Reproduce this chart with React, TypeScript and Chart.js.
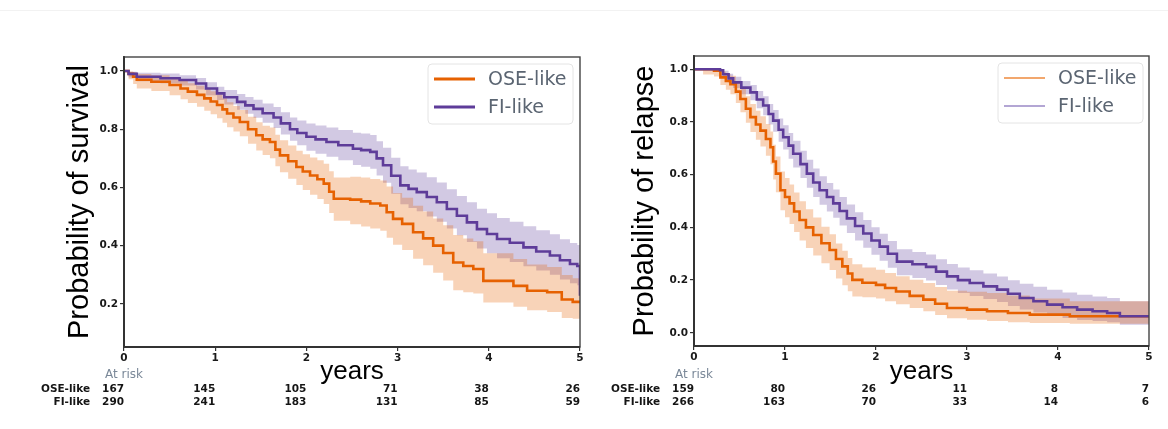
import React, { useEffect, useRef } from "react";
import { Chart, registerables } from "chart.js";

Chart.register(...registerables);

// ---------- Survival (left) ----------
const survOseT = [0, 0.05, 0.1, 0.14, 0.3, 0.5, 0.62, 0.7, 0.8, 0.88, 0.95, 1.02, 1.08, 1.13, 1.2, 1.27, 1.36, 1.45, 1.52, 1.6, 1.66, 1.71, 1.8, 1.89, 1.96, 2.04, 2.12, 2.19, 2.25, 2.3, 2.48, 2.6, 2.7, 2.81, 2.88, 2.95, 3.05, 3.17, 3.28, 3.39, 3.5, 3.61, 3.72, 3.83, 3.94, 4.27, 4.42, 4.64, 4.8, 4.92, 5.0];
const survOse = [1.0, 0.99, 0.98, 0.97, 0.963, 0.952, 0.94, 0.929, 0.918, 0.906, 0.895, 0.883, 0.868, 0.854, 0.84, 0.825, 0.8, 0.779, 0.765, 0.756, 0.73, 0.71, 0.69, 0.67, 0.655, 0.641, 0.628, 0.613, 0.585, 0.561, 0.558, 0.552, 0.545, 0.538, 0.515, 0.492, 0.475, 0.446, 0.425, 0.4, 0.375, 0.342, 0.33, 0.32, 0.279, 0.262, 0.245, 0.24, 0.215, 0.207, 0.207];
const survOseHi = [1.0, 0.998, 0.996, 0.99, 0.985, 0.977, 0.967, 0.958, 0.949, 0.939, 0.93, 0.92, 0.906, 0.893, 0.88, 0.866, 0.843, 0.824, 0.812, 0.806, 0.781, 0.762, 0.744, 0.726, 0.714, 0.703, 0.693, 0.681, 0.656, 0.634, 0.637, 0.634, 0.629, 0.624, 0.603, 0.581, 0.565, 0.537, 0.517, 0.493, 0.47, 0.437, 0.425, 0.415, 0.374, 0.354, 0.335, 0.327, 0.299, 0.288, 0.287];
const survOseLo = [1.0, 0.972, 0.955, 0.94, 0.931, 0.917, 0.903, 0.89, 0.877, 0.863, 0.851, 0.838, 0.822, 0.807, 0.792, 0.776, 0.75, 0.727, 0.711, 0.7, 0.673, 0.652, 0.63, 0.608, 0.591, 0.575, 0.56, 0.543, 0.512, 0.486, 0.474, 0.466, 0.459, 0.451, 0.427, 0.403, 0.385, 0.355, 0.333, 0.307, 0.28, 0.247, 0.24, 0.236, 0.205, 0.19, 0.178, 0.172, 0.152, 0.149, 0.149];

const survFiT = [0, 0.05, 0.14, 0.4, 0.61, 0.79, 0.9, 1.02, 1.1, 1.24, 1.33, 1.42, 1.52, 1.64, 1.72, 1.82, 1.9, 2.0, 2.1, 2.22, 2.35, 2.51, 2.6, 2.7, 2.77, 2.84, 2.93, 3.03, 3.12, 3.21, 3.32, 3.43, 3.54, 3.65, 3.76, 3.87, 3.98, 4.09, 4.23, 4.38, 4.52, 4.67, 4.78, 4.89, 4.97, 5.0];
const survFi = [1.0, 0.99, 0.98, 0.975, 0.969, 0.957, 0.94, 0.923, 0.91, 0.894, 0.882, 0.87, 0.855, 0.84, 0.82, 0.8, 0.787, 0.774, 0.765, 0.756, 0.745, 0.733, 0.728, 0.722, 0.7, 0.676, 0.64, 0.607, 0.595, 0.584, 0.567, 0.549, 0.526, 0.503, 0.48, 0.457, 0.44, 0.423, 0.41, 0.394, 0.38, 0.366, 0.35, 0.337, 0.33, 0.228];
const survFiHi = [1.0, 0.997, 0.994, 0.991, 0.985, 0.976, 0.961, 0.946, 0.935, 0.921, 0.911, 0.901, 0.888, 0.876, 0.858, 0.84, 0.83, 0.82, 0.813, 0.806, 0.797, 0.788, 0.785, 0.78, 0.759, 0.736, 0.702, 0.673, 0.662, 0.651, 0.635, 0.617, 0.594, 0.571, 0.549, 0.527, 0.511, 0.495, 0.482, 0.467, 0.453, 0.439, 0.422, 0.409, 0.402, 0.402];
const survFiLo = [1.0, 0.978, 0.965, 0.958, 0.95, 0.936, 0.917, 0.9, 0.885, 0.867, 0.853, 0.839, 0.822, 0.804, 0.782, 0.76, 0.745, 0.726, 0.716, 0.705, 0.693, 0.677, 0.671, 0.664, 0.641, 0.616, 0.578, 0.542, 0.529, 0.518, 0.5, 0.482, 0.459, 0.436, 0.413, 0.39, 0.374, 0.357, 0.344, 0.329, 0.315, 0.3, 0.284, 0.271, 0.264, 0.264];

// ---------- Relapse (right) ----------
const relOseT = [0, 0.1, 0.22, 0.29, 0.35, 0.4, 0.46, 0.51, 0.57, 0.62, 0.68, 0.73, 0.79, 0.84, 0.87, 0.9, 0.95, 1.0, 1.05, 1.1, 1.16, 1.23, 1.31, 1.4, 1.49, 1.56, 1.63, 1.69, 1.74, 1.85, 2.0, 2.1, 2.22, 2.37, 2.52, 2.65, 2.78, 3.0, 3.22, 3.45, 3.69, 4.13, 5.0];
const relOse = [1.0, 1.0, 0.994, 0.969, 0.955, 0.943, 0.915, 0.887, 0.85, 0.818, 0.79, 0.767, 0.735, 0.704, 0.65, 0.604, 0.541, 0.515, 0.491, 0.46, 0.428, 0.4, 0.371, 0.34, 0.314, 0.28, 0.252, 0.225, 0.201, 0.19, 0.182, 0.17, 0.157, 0.14, 0.126, 0.11, 0.094, 0.088, 0.082, 0.075, 0.069, 0.063, 0.063];
const relOseHi = [1.0, 1.0, 1.0, 0.99, 0.982, 0.975, 0.953, 0.931, 0.897, 0.868, 0.842, 0.821, 0.792, 0.764, 0.713, 0.669, 0.612, 0.587, 0.563, 0.532, 0.499, 0.469, 0.437, 0.402, 0.374, 0.339, 0.311, 0.284, 0.26, 0.248, 0.239, 0.227, 0.215, 0.201, 0.189, 0.174, 0.16, 0.156, 0.151, 0.142, 0.13, 0.12, 0.113];
const relOseLo = [1.0, 0.98, 0.972, 0.94, 0.922, 0.905, 0.872, 0.837, 0.797, 0.762, 0.732, 0.707, 0.672, 0.639, 0.582, 0.533, 0.465, 0.438, 0.413, 0.382, 0.35, 0.322, 0.293, 0.264, 0.238, 0.206, 0.18, 0.158, 0.138, 0.135, 0.13, 0.12, 0.108, 0.094, 0.082, 0.068, 0.055, 0.05, 0.045, 0.04, 0.037, 0.034, 0.031];

const relFiT = [0, 0.2, 0.286, 0.32, 0.38, 0.43, 0.52, 0.62, 0.69, 0.76, 0.82, 0.87, 0.93, 0.98, 1.04, 1.09, 1.17, 1.24, 1.31, 1.38, 1.46, 1.53, 1.6, 1.68, 1.77, 1.86, 1.95, 2.04, 2.13, 2.23, 2.4, 2.55, 2.66, 2.78, 2.9, 3.03, 3.18, 3.33, 3.45, 3.58, 3.73, 3.88, 4.05, 4.21, 4.38, 4.54, 4.68, 5.0];
const relFi = [1.0, 1.0, 0.996, 0.981, 0.965, 0.95, 0.93, 0.912, 0.885, 0.862, 0.83, 0.805, 0.77, 0.742, 0.71, 0.679, 0.64, 0.604, 0.57, 0.541, 0.515, 0.491, 0.462, 0.434, 0.405, 0.377, 0.35, 0.327, 0.3, 0.27, 0.26, 0.25, 0.232, 0.214, 0.2, 0.189, 0.176, 0.164, 0.148, 0.132, 0.12, 0.107, 0.097, 0.088, 0.082, 0.075, 0.063, 0.063];
const relFiHi = [1.0, 1.0, 1.0, 0.994, 0.983, 0.971, 0.955, 0.94, 0.917, 0.897, 0.868, 0.845, 0.813, 0.787, 0.758, 0.729, 0.691, 0.656, 0.623, 0.594, 0.568, 0.544, 0.515, 0.487, 0.457, 0.428, 0.4, 0.376, 0.348, 0.317, 0.307, 0.297, 0.279, 0.261, 0.248, 0.237, 0.225, 0.214, 0.199, 0.186, 0.175, 0.163, 0.153, 0.144, 0.138, 0.132, 0.12, 0.116];
const relFiLo = [1.0, 1.0, 0.988, 0.967, 0.947, 0.929, 0.905, 0.882, 0.852, 0.825, 0.79, 0.763, 0.725, 0.695, 0.66, 0.627, 0.587, 0.55, 0.515, 0.486, 0.46, 0.436, 0.407, 0.379, 0.35, 0.323, 0.296, 0.273, 0.247, 0.218, 0.208, 0.198, 0.181, 0.164, 0.151, 0.14, 0.128, 0.117, 0.102, 0.088, 0.077, 0.065, 0.056, 0.049, 0.045, 0.04, 0.031, 0.031];

// ---------- At-risk table ----------
const riskTimes = [0, 1, 2, 3, 4, 5];
const survRiskOse = [167, 145, 105, 71, 38, 26];
const survRiskFi = [290, 241, 183, 131, 85, 59];
const relRiskOse = [159, 80, 26, 11, 8, 7];
const relRiskFi = [266, 163, 70, 33, 14, 6];

const groupNames = ["OSE-like", "FI-like"];
const survTitle = "Probability of survival";
const relTitle = "Probability of relapse";
const xTitle = "years";
const atRiskLabel = "At risk";

const ORANGE = "#e66101";
const PURPLE = "#5e3c99";
const ORANGE_BAND = "rgba(230, 97, 1, 0.28)";
const PURPLE_BAND = "rgba(94, 60, 153, 0.28)";

const toPts = (t: number[], v: number[]) => t.map((x, i) => ({ x, y: v[i] }));

type Series = { t: number[]; s: number[]; hi: number[]; lo: number[] };

type Cfg = {
  left: number;
  width: number;
  padTop: number;
  padRight: number;
  yAxisW: number;
  xAxisH: number;
  yMin: number;
  yMax: number;
  title: string;
  titleBaselineX: number;
  ose: Series;
  fi: Series;
  riskOse: number[];
  riskFi: number[];
  legendLineW: number;
  legendColors: string[];
  legendRightGap: number;
};

const TICK_FONT = { family: "'DejaVu Sans'", size: 10.5, weight: "bold" as const };

function KMChart({ cfg }: { cfg: Cfg }) {
  const ref = useRef<HTMLCanvasElement>(null);
  useEffect(() => {
    const extras = {
      id: "kmExtras",
      afterDraw(chart: any) {
        const { ctx, chartArea: ca } = chart;
        const xs = chart.scales.x;
        ctx.save();
        // frame
        ctx.strokeStyle = "#444";
        ctx.lineWidth = 1.4;
        ctx.strokeRect(ca.left, ca.top, ca.right - ca.left, ca.bottom - ca.top);
        ctx.strokeStyle = "#333";
        ctx.lineWidth = 2;
        ctx.beginPath();
        ctx.moveTo(ca.left, ca.top);
        ctx.lineTo(ca.left, ca.bottom);
        ctx.lineTo(ca.right, ca.bottom);
        ctx.stroke();

        // y title
        ctx.save();
        ctx.translate(cfg.titleBaselineX, (ca.top + ca.bottom) / 2);
        ctx.rotate(-Math.PI / 2);
        ctx.font = "29px 'Liberation Sans'";
        ctx.fillStyle = "#000";
        ctx.textAlign = "center";
        ctx.textBaseline = "alphabetic";
        ctx.fillText(cfg.title, 0, 0);
        ctx.restore();

        // x title
        ctx.font = "26px 'Liberation Sans'";
        ctx.fillStyle = "#000";
        ctx.textAlign = "center";
        ctx.textBaseline = "alphabetic";
        ctx.fillText(xTitle, (ca.left + ca.right) / 2, 379);

        // at risk
        ctx.font = "12px 'DejaVu Sans'";
        ctx.fillStyle = "#7a8898";
        ctx.textAlign = "left";
        ctx.textBaseline = "middle";
        ctx.fillText(atRiskLabel, ca.left - 19, 375);
        ctx.font = "bold 10.5px 'DejaVu Sans'";
        ctx.fillStyle = "#151515";
        ctx.textAlign = "right";
        const rows = [cfg.riskOse, cfg.riskFi];
        rows.forEach((row, r) => {
          const y = 389 + r * 13.5;
          ctx.fillText(groupNames[r], ca.left - 34, y);
          row.forEach((n, i) => {
            ctx.fillText(String(n), xs.getPixelForValue(riskTimes[i]), y);
          });
        });

        // legend
        const bw = 145;
        const bh = 60;
        const bx = ca.right - cfg.legendRightGap - bw;
        const by = ca.top + 7;
        ctx.beginPath();
        (ctx as any).roundRect(bx, by, bw, bh, 4);
        ctx.fillStyle = "rgba(255,255,255,0.85)";
        ctx.fill();
        ctx.strokeStyle = "#e4e4e4";
        ctx.lineWidth = 1;
        ctx.stroke();
        ctx.font = "19px 'DejaVu Sans'";
        ctx.textAlign = "left";
        ctx.textBaseline = "middle";
        groupNames.forEach((name, i) => {
          const y = by + 15 + i * 28;
          ctx.strokeStyle = cfg.legendColors[i];
          ctx.lineWidth = cfg.legendLineW;
          ctx.beginPath();
          ctx.moveTo(bx + 6, y);
          ctx.lineTo(bx + 47, y);
          ctx.stroke();
          ctx.fillStyle = "#5b6572";
          ctx.fillText(name, bx + 60, y + 1);
        });
        ctx.restore();
      },
    };

    const line = (s: Series, color: string) => ({
      data: toPts(s.t, s.s),
      borderColor: color,
      borderWidth: 2.6,
      pointRadius: 0,
      stepped: true,
      fill: false,
    });
    const bandHi = (s: Series) => ({
      data: toPts(s.t, s.hi),
      borderWidth: 0,
      borderColor: "rgba(0,0,0,0)",
      pointRadius: 0,
      stepped: true,
      fill: false,
    });
    const bandLo = (s: Series, target: number, color: string) => ({
      data: toPts(s.t, s.lo),
      borderWidth: 0,
      borderColor: "rgba(0,0,0,0)",
      backgroundColor: color,
      pointRadius: 0,
      stepped: true,
      fill: target,
    });

    const chart = new Chart(ref.current as HTMLCanvasElement, {
      type: "line",
      data: {
        datasets: [
          line(cfg.fi, PURPLE),
          line(cfg.ose, ORANGE),
          bandHi(cfg.ose),
          bandLo(cfg.ose, 2, ORANGE_BAND),
          bandHi(cfg.fi),
          bandLo(cfg.fi, 4, PURPLE_BAND),
        ] as any,
      },
      options: {
        animation: false,
        responsive: false,
        events: [],
        layout: { padding: { left: 0, top: cfg.padTop, right: cfg.padRight, bottom: 0 } },
        plugins: { legend: { display: false }, tooltip: { enabled: false }, title: { display: false } },
        scales: {
          x: {
            type: "linear",
            min: 0,
            max: 5,
            ticks: {
              stepSize: 1,
              font: TICK_FONT,
              color: "#1a1a1a",
              padding: 1,
              maxRotation: 0,
              callback: (v: any) => String(v),
            },
            grid: { display: true, drawOnChartArea: false, drawTicks: true, tickLength: 4, color: "#333", lineWidth: 1.2 },
            border: { display: true, color: "#333", width: 2 },
            afterFit: (s: any) => {
              s.height = cfg.xAxisH;
            },
          },
          y: {
            type: "linear",
            min: cfg.yMin,
            max: cfg.yMax,
            ticks: {
              stepSize: 0.2,
              includeBounds: false,
              font: TICK_FONT,
              color: "#1a1a1a",
              padding: 2,
              callback: (v: any) => Number(v).toFixed(1),
            },
            grid: { display: true, drawOnChartArea: false, drawTicks: true, tickLength: 4, color: "#333", lineWidth: 1.2 },
            border: { display: true, color: "#333", width: 2 },
            afterFit: (s: any) => {
              s.width = cfg.yAxisW;
            },
          },
        },
      } as any,
      plugins: [extras],
    });
    return () => chart.destroy();
  }, []);
  return (
    <canvas
      ref={ref}
      width={cfg.width}
      height={429}
      style={{ position: "absolute", left: cfg.left, top: 0, width: cfg.width, height: 429 }}
    />
  );
}

const leftCfg: Cfg = {
  left: 0,
  width: 592,
  padTop: 57,
  padRight: 12,
  yAxisW: 124,
  xAxisH: 82,
  yMin: 0.052,
  yMax: 1.048,
  title: survTitle,
  titleBaselineX: 88,
  ose: { t: survOseT, s: survOse, hi: survOseHi, lo: survOseLo },
  fi: { t: survFiT, s: survFi, hi: survFiHi, lo: survFiLo },
  riskOse: survRiskOse,
  riskFi: survRiskFi,
  legendLineW: 3,
  legendColors: [ORANGE, PURPLE],
  legendRightGap: 7,
};

const rightCfg: Cfg = {
  left: 584,
  width: 584,
  padTop: 56,
  padRight: 19,
  yAxisW: 110,
  xAxisH: 83,
  yMin: -0.05,
  yMax: 1.05,
  title: relTitle,
  titleBaselineX: 69,
  ose: { t: relOseT, s: relOse, hi: relOseHi, lo: relOseLo },
  fi: { t: relFiT, s: relFi, hi: relFiHi, lo: relFiLo },
  riskOse: relRiskOse,
  riskFi: relRiskFi,
  legendLineW: 1.6,
  legendColors: ["#ee8a3c", "#9a88c6"],
  legendRightGap: 6,
};

export default function App() {
  return (
    <div style={{ position: "absolute", left: 0, top: 0, width: 1168, height: 429, background: "#fff", overflow: "hidden" }}>
      <div style={{ position: "absolute", left: 0, top: 10, width: 1168, height: 1, background: "#f2f2f2" }} />
      <KMChart cfg={leftCfg} />
      <KMChart cfg={rightCfg} />
    </div>
  );
}
